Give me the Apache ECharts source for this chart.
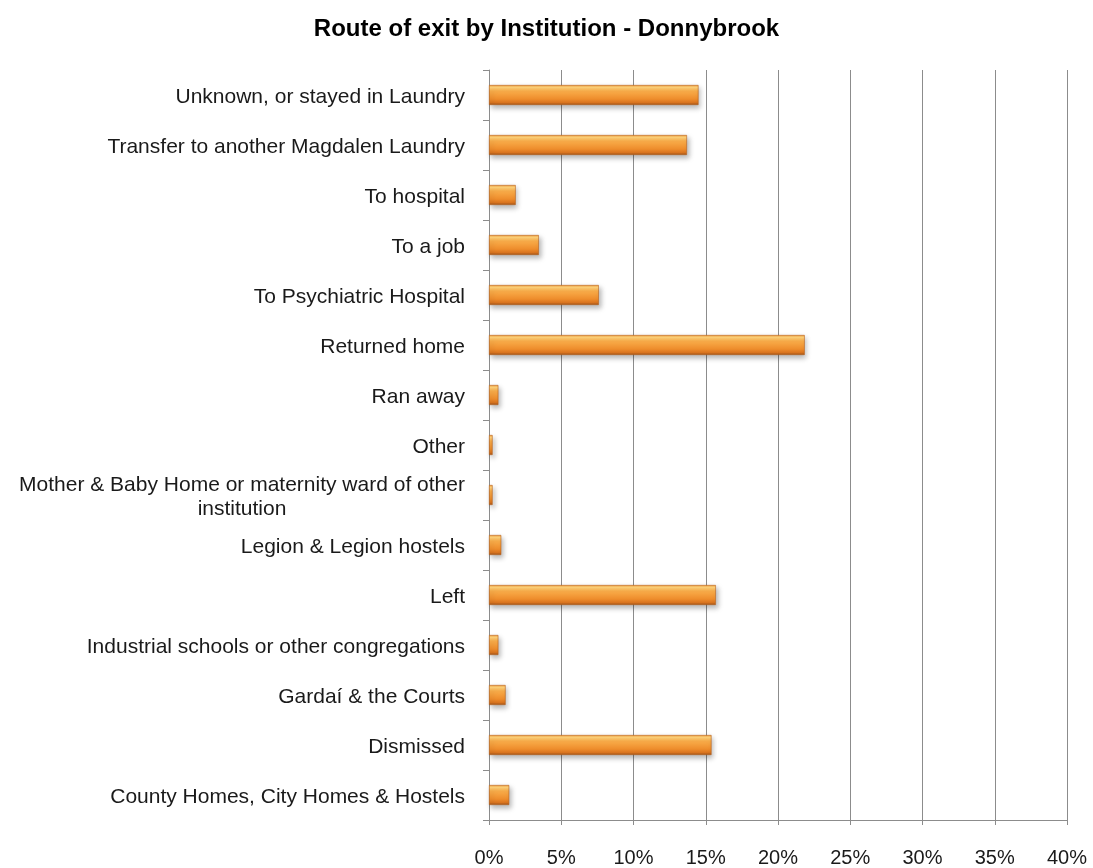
<!DOCTYPE html>
<html>
<head>
<meta charset="utf-8">
<script src="https://cdn.jsdelivr.net/npm/echarts@6/dist/echarts.min.js"></script>
<style>
  html, body { margin: 0; padding: 0; background: #ffffff; }
  #chart { width: 1093px; height: 868px; }
</style>
</head>
<body>
<div id="chart"></div>
<script>
// Route of exit categories, bottom to top as drawn on the category axis
const categories = [
  'County Homes, City Homes & Hostels',
  'Dismissed',
  'Gardaí & the Courts',
  'Industrial schools or other congregations',
  'Left',
  'Legion & Legion hostels',
  'Mother & Baby Home or maternity ward of other\ninstitution',
  'Other',
  'Ran away',
  'Returned home',
  'To Psychiatric Hospital',
  'To a job',
  'To hospital',
  'Transfer to another Magdalen Laundry',
  'Unknown, or stayed in Laundry'
];

// Share of exits (%) per route
const shares = [1.4, 15.4, 1.15, 0.65, 15.7, 0.85, 0.25, 0.25, 0.65, 21.85, 7.6, 3.45, 1.85, 13.7, 14.5];

// Percentage ticks on the value axis
const tickMin = 0;
const tickMax = 40;
const tickStep = 5;

const chart = echarts.init(document.getElementById('chart'), null, { renderer: 'canvas' });

const labelFont = '"Liberation Sans", Arial, sans-serif';

// Bevelled orange fill: light upper edge, darker lower edge
const barFill = new echarts.graphic.LinearGradient(0, 0, 0, 1, [
  { offset: 0.00, color: '#f0a040' },
  { offset: 0.12, color: '#ffd27a' },
  { offset: 0.30, color: '#f9ad4a' },
  { offset: 0.70, color: '#ee8d2c' },
  { offset: 0.88, color: '#d9741f' },
  { offset: 1.00, color: '#9c5218' }
]);

chart.setOption({
  backgroundColor: '#ffffff',
  animation: false,
  title: {
    text: 'Route of exit by Institution - Donnybrook',
    left: 'center',
    top: 12,
    textStyle: {
      fontFamily: labelFont,
      fontWeight: 'bold',
      fontSize: 24,
      color: '#000000'
    }
  },
  grid: {
    left: 489,
    right: 26,
    top: 70,
    bottom: 48,
    containLabel: false
  },
  xAxis: {
    type: 'value',
    min: tickMin,
    max: tickMax,
    interval: tickStep,
    axisLine: { show: true, lineStyle: { color: '#8c8c8c', width: 1 } },
    axisTick: { show: true, length: 5, lineStyle: { color: '#8c8c8c' } },
    splitLine: { show: true, lineStyle: { color: '#8c8c8c', width: 1 } },
    axisLabel: {
      formatter: v => v + '%',
      margin: 28,
      fontFamily: labelFont,
      fontSize: 20,
      color: '#1a1a1a'
    }
  },
  yAxis: {
    type: 'category',
    data: categories,
    axisLine: { show: true, lineStyle: { color: '#8c8c8c', width: 1 } },
    axisTick: { show: true, length: 6, alignWithLabel: false, lineStyle: { color: '#8c8c8c' } },
    axisLabel: {
      margin: 24,
      padding: [4, 0, 0, 0],
      fontFamily: labelFont,
      fontSize: 21,
      color: '#1a1a1a',
      lineHeight: 24,
      formatter: function (v) {
        if (v.indexOf('\n') >= 0) return '{wrap|' + v + '}';
        return v;
      },
      rich: {
        wrap: {
          width: 446,
          align: 'center',
          fontFamily: labelFont,
          fontSize: 21,
          color: '#1a1a1a',
          lineHeight: 24
        }
      }
    }
  },
  series: [{
    type: 'bar',
    data: shares,
    barWidth: 20,
    itemStyle: {
      color: barFill,
      borderColor: '#b8621c',
      borderWidth: 0.6,
      shadowBlur: 5,
      shadowOffsetX: 2,
      shadowOffsetY: 3,
      shadowColor: 'rgba(0,0,0,0.28)'
    }
  }]
});
</script>
</body>
</html>
